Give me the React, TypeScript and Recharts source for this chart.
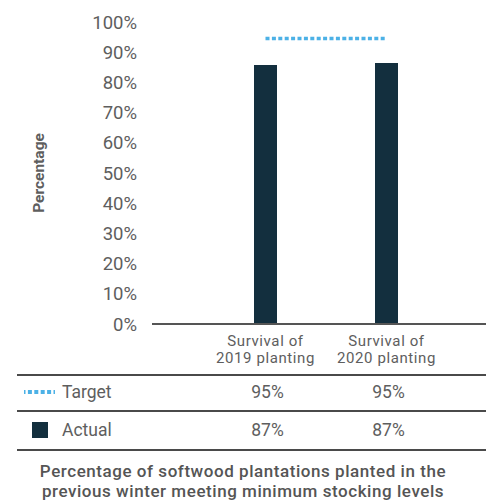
import React from 'react';
import { ComposedChart, Bar, Line, XAxis, YAxis } from 'recharts';

const categories = ['Survival of 2019 planting', 'Survival of 2020 planting'];
const categoryLine1 = ['Survival of', 'Survival of'];
const categoryLine2 = ['2019 planting', '2020 planting'];
const actualValues = [85.8, 86.4];
const targetValues = [94.5, 94.5];
const targetLabels = ['95%', '95%'];
const actualLabels = ['87%', '87%'];
const yTicks = [0, 10, 20, 30, 40, 50, 60, 70, 80, 90, 100];

const data = categories.map((name, i) => ({
  name,
  line1: categoryLine1[i],
  line2: categoryLine2[i],
  actual: actualValues[i],
  target: targetValues[i],
  targetLabel: targetLabels[i],
  actualLabel: actualLabels[i],
}));

const FONT = 'Roboto, "Open Sans", sans-serif';
const TEXT = '#5e5e5e';
const BAR = '#132f3e';
const TARGET = '#4cb1e6';
const PAD = { left: 53, right: 39 };

const CatTick = (props: any) => {
  const { x, y, index } = props;
  const d = data[index];
  return (
    <g>
      <text x={x} y={y + 16.5} dominantBaseline="central" textAnchor="middle" fill={TEXT} fontSize={15} letterSpacing={0.6} fontFamily={FONT}>
        {d.line1}
      </text>
      <text x={x} y={y + 34.2} dominantBaseline="central" textAnchor="middle" fill={TEXT} fontSize={15} letterSpacing={0.6} fontFamily={FONT}>
        {d.line2}
      </text>
    </g>
  );
};

const RowTick = (props: any) => {
  const { x, y, payload, h } = props;
  return (
    <text x={x + 2} y={y + h / 2} textAnchor="middle" dominantBaseline="central" fill={TEXT} fontSize={17.5} fontFamily={FONT}>
      {payload.value}
    </text>
  );
};

const YLabel = (props: any) => {
  const { viewBox } = props;
  const cx = 39;
  const cy = viewBox.y + viewBox.height / 2;
  return (
    <text x={cx} y={cy} transform={`rotate(-90 ${cx} ${cy})`} textAnchor="middle" dominantBaseline="central" fill={TEXT} fontSize={15.5} fontWeight={700} fontFamily={FONT}>
      Percentage
    </text>
  );
};

const hLine = (top: number) => (
  <div style={{ position: 'absolute', left: 17, top, width: 469, height: 1.5, background: '#4a4a4a' }} />
);

export default function App() {
  return (
    <div style={{ position: 'absolute', left: 0, top: 0, width: 486, height: 501, background: '#fff', fontFamily: FONT }}>
      <ComposedChart width={486} height={452} data={data} margin={{ top: 22, right: 0, left: 0, bottom: 3 }}>
        <YAxis
          width={152}
          domain={[0, 100]}
          ticks={yTicks}
          interval={0}
          tickFormatter={(v: number) => `${v}%`}
          axisLine={false}
          tickLine={false}
          tickSize={0}
          tickMargin={15}
          tick={{ fill: TEXT, fontSize: 18.5, fontFamily: FONT }}
          label={<YLabel />}
        />
        <XAxis
          dataKey="name"
          padding={PAD}
          height={50}
          axisLine={{ stroke: '#555', strokeWidth: 2 }}
          tickLine={false}
          tickSize={0}
          tickMargin={0}
          interval={0}
          tick={<CatTick />}
        />
        <XAxis
          xAxisId="row1"
          dataKey="targetLabel"
          padding={PAD}
          height={36}
          axisLine={false}
          tickLine={false}
          tickSize={0}
          tickMargin={0}
          interval={0}
          allowDuplicatedCategory={true}
          tick={<RowTick h={36} />}
        />
        <XAxis
          xAxisId="row2"
          dataKey="actualLabel"
          padding={PAD}
          height={39}
          axisLine={false}
          tickLine={false}
          tickSize={0}
          tickMargin={0}
          interval={0}
          allowDuplicatedCategory={true}
          tick={<RowTick h={39} />}
        />
        <Bar dataKey="actual" fill={BAR} barSize={23} isAnimationActive={false} />
        <Line
          dataKey="target"
          stroke={TARGET}
          strokeWidth={3.5}
          strokeDasharray="4 2.4"
          dot={false}
          activeDot={false}
          isAnimationActive={false}
        />
      </ComposedChart>
      {hLine(374)}
      {hLine(410)}
      {hLine(449)}
      <svg style={{ position: 'absolute', left: 0, top: 380 }} width={60} height={60}>
        <line x1={24} y1={12} x2={55} y2={12} stroke={TARGET} strokeWidth={4} strokeDasharray="4 2.4" strokeDashoffset={2.5} />
        <rect x={32} y={42} width={16} height={16} fill={BAR} />
      </svg>
      <div style={{ position: 'absolute', left: 62, top: 381, lineHeight: '22px', fontSize: 17.5, color: TEXT }}>Target</div>
      <div style={{ position: 'absolute', left: 62, top: 419, lineHeight: '22px', fontSize: 17.5, color: TEXT }}>Actual</div>
      <div style={{ position: 'absolute', left: 0, top: 461, width: 486, textAlign: 'center', fontSize: 17, letterSpacing: 0.55, fontWeight: 500, lineHeight: '20px', color: '#555' }}>
        Percentage of softwood plantations planted in the
        <br />
        previous winter meeting minimum stocking levels
      </div>
    </div>
  );
}
